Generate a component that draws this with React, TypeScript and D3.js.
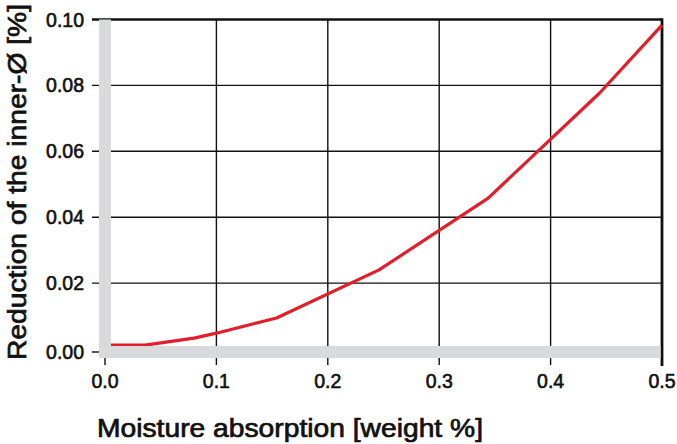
import { useEffect, useRef } from 'react';
import * as d3 from 'd3';

// moisture absorption [weight %] vs reduction of inner diameter [%]
const moisture = [0, 0.036, 0.08, 0.1, 0.154, 0.246, 0.344, 0.444, 0.5];
const reduction = [0.0012, 0.0012, 0.0033, 0.0048, 0.0094, 0.024, 0.0458, 0.0777, 0.0983];

const xTicks = [0, 0.1, 0.2, 0.3, 0.4, 0.5];
const yTicks = [0, 0.02, 0.04, 0.06, 0.08, 0.1];

const xTitle = 'Moisture absorption [weight %]';
const yTitle = 'Reduction of the inner-Ø [%]';

export default function App() {
  const svgRef = useRef<SVGSVGElement>(null);

  useEffect(() => {
    if (!svgRef.current) return;
    const svg = d3.select(svgRef.current);
    svg.selectAll('*').remove();

    const width = 677;
    const height = 444;
    svg.attr('width', width).attr('height', height);

    const x = d3.scaleLinear().domain([0, 0.5]).range([105, 662]);
    const y = d3.scaleLinear().domain([0, 0.1]).range([349, 19.5]);

    const font = '"Liberation Sans", Arial, sans-serif';
    const gray = '#d9dadb';

    // horizontal gridlines (with ticks sticking out left)
    svg.append('g')
      .selectAll('line')
      .data(yTicks.filter(t => t > 0))
      .join('line')
      .attr('x1', 92)
      .attr('x2', x(0.5))
      .attr('y1', d => y(d))
      .attr('y2', d => y(d))
      .attr('stroke', '#111')
      .attr('stroke-width', d => (d === 0.1 ? 2.6 : 1.4));

    // vertical gridlines
    svg.append('g')
      .selectAll('line')
      .data(xTicks.filter(t => t > 0 && t < 0.5))
      .join('line')
      .attr('x1', d => x(d))
      .attr('x2', d => x(d))
      .attr('y1', y(0.1))
      .attr('y2', 365)
      .attr('stroke', '#111')
      .attr('stroke-width', 1.4);

    // x=0 tick and y=0 tick
    svg.append('line')
      .attr('x1', x(0)).attr('x2', x(0))
      .attr('y1', 355).attr('y2', 365)
      .attr('stroke', '#111').attr('stroke-width', 1.4);
    svg.append('line')
      .attr('x1', 92).attr('x2', 99)
      .attr('y1', y(0) + 3).attr('y2', y(0) + 3)
      .attr('stroke', '#111').attr('stroke-width', 1.4);

    // right border
    svg.append('line')
      .attr('x1', x(0.5)).attr('x2', x(0.5))
      .attr('y1', y(0.1) - 1.3).attr('y2', 366)
      .attr('stroke', '#111').attr('stroke-width', 2.8);

    // curve
    const line = d3.line<number>()
      .x((_, i) => x(moisture[i]))
      .y(d => y(d));

    svg.append('path')
      .datum(reduction)
      .attr('d', line)
      .attr('fill', 'none')
      .attr('stroke', '#e31e2a')
      .attr('stroke-width', 3.2)
      .attr('stroke-linejoin', 'round');

    // gray axis bars
    svg.append('rect')
      .attr('x', x(0) - 6).attr('y', y(0.1))
      .attr('width', 12).attr('height', y(0) + 9 - y(0.1))
      .attr('fill', gray);
    svg.append('rect')
      .attr('x', x(0) - 6).attr('y', y(0) - 3)
      .attr('width', x(0.5) - 1.5 - (x(0) - 6)).attr('height', 12)
      .attr('fill', gray);

    // y tick labels
    svg.append('g')
      .selectAll('text')
      .data(yTicks)
      .join('text')
      .attr('x', 84)
      .attr('y', d => y(d) + (d === 0 ? 3 : 0))
      .attr('dy', '0.36em')
      .attr('text-anchor', 'end')
      .attr('font-family', font)
      .attr('font-size', 19.5)
      .attr('fill', '#111')
      .attr('stroke', '#111')
      .attr('stroke-width', 0.6)
      .text(d => d3.format('.2f')(d));

    // x tick labels
    svg.append('g')
      .selectAll('text')
      .data(xTicks)
      .join('text')
      .attr('x', d => x(d))
      .attr('y', 388)
      .attr('text-anchor', 'middle')
      .attr('font-family', font)
      .attr('font-size', 19.5)
      .attr('fill', '#111')
      .attr('stroke', '#111')
      .attr('stroke-width', 0.6)
      .text(d => d3.format('.1f')(d));

    // axis titles
    svg.append('text')
      .attr('x', 97)
      .attr('y', 437)
      .attr('font-family', font)
      .attr('font-size', 25)
      .attr('textLength', 386)
      .attr('lengthAdjust', 'spacingAndGlyphs')
      .attr('fill', '#111')
      .attr('stroke', '#111')
      .attr('stroke-width', 0.7)
      .text(xTitle);

    svg.append('text')
      .attr('transform', 'translate(26,360) rotate(-90)')
      .attr('font-family', font)
      .attr('font-size', 25)
      .attr('textLength', 356)
      .attr('lengthAdjust', 'spacingAndGlyphs')
      .attr('fill', '#111')
      .attr('stroke', '#111')
      .attr('stroke-width', 0.7)
      .text(yTitle);
  }, []);

  return (
    <svg
      ref={svgRef}
      style={{ position: 'absolute', left: 0, top: 0, background: '#fff' }}
    />
  );
}
